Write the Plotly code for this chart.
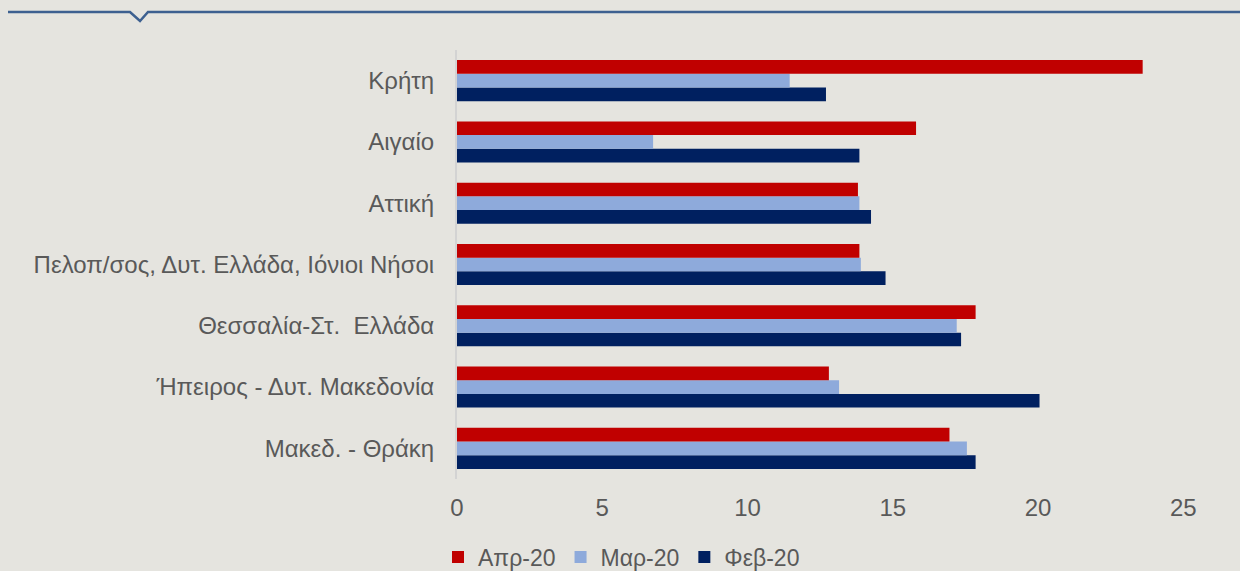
import plotly.graph_objects as go

categories = ["Κρήτη", "Αιγαίο", "Αττική", "Πελοπ/σος, Δυτ. Ελλάδα, Ιόνιοι Νήσοι",
              "Θεσσαλία-Στ.  Ελλάδα", "Ήπειρος - Δυτ. Μακεδονία", "Μακεδ. - Θράκη"]
apr20 = [23.6, 15.8, 13.8, 13.85, 17.85, 12.8, 16.95]
mar20 = [11.45, 6.75, 13.85, 13.9, 17.2, 13.15, 17.55]
feb20 = [12.7, 13.85, 14.25, 14.75, 17.35, 20.05, 17.85]
series_names = ["Απρ-20", "Μαρ-20", "Φεβ-20"]
colors = ["#c00000", "#8eaadb", "#002060"]

W, H = 1240, 571
L, R, T, B = 457, 0, 50, 92
pw, ph = W - L - R, H - T - B

fig = go.Figure()
# bottom-most bar in each group first
for name, vals, col in [(series_names[2], feb20, colors[2]),
                        (series_names[1], mar20, colors[1]),
                        (series_names[0], apr20, colors[0])]:
    fig.add_trace(go.Bar(y=categories, x=vals, name=name, orientation="h",
                         marker=dict(color=col, line=dict(width=0))))

# decorative top rule with notch (pixel -> paper)
def px(x):
    return (x - L) / pw
def py(y):
    return (H - B - y) / ph
path = (f"M {px(8)},{py(12)} L {px(130)},{py(12)} L {px(140)},{py(21)} "
        f"L {px(148)},{py(12)} L {px(1240)},{py(12)}")
fig.add_shape(type="path", path=path, xref="paper", yref="paper",
              line=dict(color="#3d6090", width=2.5))

font_col = "#595959"
fig.update_layout(
    width=W, height=H,
    margin=dict(l=L, r=R, t=T, b=B, autoexpand=False),
    paper_bgcolor="#e5e4df", plot_bgcolor="#e5e4df",
    barmode="group", bargap=0.33, bargroupgap=0,
    font=dict(family="Liberation Sans, Arial, sans-serif", color=font_col),
    showlegend=True,
    legend=dict(orientation="h", traceorder="reversed", x=px(438), xanchor="left",
                y=py(557), yanchor="middle", font=dict(size=23, color=font_col),
                bgcolor="rgba(0,0,0,0)", itemwidth=30),
    xaxis=dict(range=[0, 26.95], tickvals=[0, 5, 10, 15, 20, 25], showgrid=False,
               zeroline=False, showline=False, ticks="", ticklabelstandoff=12,
               tickfont=dict(size=24, color=font_col)),
    yaxis=dict(categoryorder="array", categoryarray=list(reversed(categories)),
               showgrid=False, zeroline=False, showline=True, linecolor="#d3d3d3",
               linewidth=2, ticks="", ticklabelstandoff=16,
               tickfont=dict(size=24, color=font_col)),
)

fig.write_html("out.html", config={"displayModeBar": False},
               post_script="document.body.style.margin='0';document.body.style.padding='0';")
